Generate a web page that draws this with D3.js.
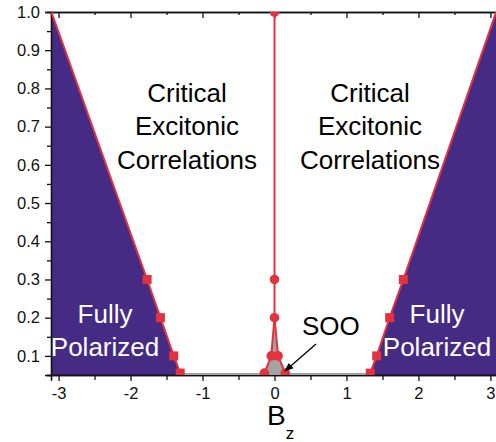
<!DOCTYPE html>
<html>
<head>
<meta charset="utf-8">
<script src="https://cdn.jsdelivr.net/npm/d3@7"></script>
<style>
  body { margin: 0; background: #fff; }
  text { font-family: "Liberation Sans", Arial, Helvetica, sans-serif; }
</style>
</head>
<body>
<div id="chart"></div>
<script>
// svg container
var svgWidth = 496;
var svgHeight = 442;

// plot area (right edge runs past the window)
var margin = { top: 12, left: 51 };
var plotRight = 498;
var plotBottom = 375;

// data
// critical fields (squares) at each temperature
var critY = [0.055, 0.1, 0.2, 0.3];
var leftCritX = [-1.31, -1.40, -1.585, -1.77];
var rightCritX = [1.33, 1.42, 1.60, 1.79];
// boundary lines continue to the top of the frame
var edgeY = 1.0;
var leftEdgeX = -3.10;
var rightEdgeX = 3.08;

// center line (circles) at Bz = 0
var centerY = [1.0, 0.3, 0.2];
// SOO pocket edges
var sooY = [0.1, 0.055];
var sooLeftX = [-0.045, -0.14];
var sooRightX = [0.05, 0.15];

// ticks
var xMajor = [-3, -2, -1, 0, 1, 2, 3];
var xMinor = [-2.5, -1.5, -0.5, 0.5, 1.5, 2.5];
var yMajor = [0.1, 0.2, 0.3, 0.4, 0.5, 0.6, 0.7, 0.8, 0.9, 1.0];
var yMinor = [0.05, 0.15, 0.25, 0.35, 0.45, 0.55, 0.65, 0.75, 0.85, 0.95];

var purple = "#452b83";
var red = "#e1323d";
var grey = "#a3a3a3";

var svg = d3.select("#chart").append("svg")
  .attr("width", svgWidth)
  .attr("height", svgHeight);

var xScale = d3.scaleLinear().domain([-3.105, 3.105]).range([margin.left, plotRight]);
var yScale = d3.scaleLinear().domain([0.05, 1.0]).range([plotBottom, margin.top]);
var xMin = xScale.domain()[0], xMax = xScale.domain()[1];
var yMin = yScale.domain()[0], yMax = yScale.domain()[1];

svg.append("clipPath").attr("id", "plotClip")
  .append("rect")
  .attr("x", margin.left)
  .attr("y", margin.top)
  .attr("width", plotRight - margin.left)
  .attr("height", plotBottom - margin.top);

var plot = svg.append("g").attr("clip-path", "url(#plotClip)");

var line = d3.line().x(d => xScale(d[0])).y(d => yScale(d[1]));

// boundary point lists
var leftBoundary = critY.map((y, i) => [leftCritX[i], y]).concat([[leftEdgeX, edgeY]]);
var rightBoundary = critY.map((y, i) => [rightCritX[i], y]).concat([[rightEdgeX, edgeY]]);

// fully polarized regions
var leftPoly = [[xMin, yMin], [leftCritX[0], yMin]].concat(leftBoundary).concat([[xMin, yMax]]);
var rightPoly = [[xMax, yMin], [rightCritX[0], yMin]].concat(rightBoundary).concat([[xMax, yMax]]);

plot.append("path").attr("d", line(leftPoly) + "Z").attr("fill", purple);
plot.append("path").attr("d", line(rightPoly) + "Z").attr("fill", purple);

// axes
var xAxisBottom = d3.axisBottom(xScale).tickValues(xMajor).tickSize(6).tickPadding(6)
  .tickFormat(d => String(d));
var xAxisBottomMinor = d3.axisBottom(xScale).tickValues(xMinor).tickSize(5).tickFormat("");
var xAxisTop = d3.axisTop(xScale).tickValues(xMajor).tickSize(-6).tickFormat("");
var xAxisTopMinor = d3.axisTop(xScale).tickValues(xMinor).tickSize(-3).tickFormat("");
var yAxis = d3.axisLeft(yScale).tickValues(yMajor).tickSize(6).tickPadding(5)
  .tickFormat(d => d.toFixed(1));
var yAxisMinor = d3.axisLeft(yScale).tickValues(yMinor).tickSize(4).tickFormat("");

function styleAxis(g) {
  g.select(".domain").attr("stroke", "#111").attr("stroke-width", 1.3);
  g.selectAll(".tick line").attr("stroke", "#111").attr("stroke-width", 1.3);
  g.selectAll(".tick text").attr("fill", "#111").style("font-size", "16.5px")
    .style("font-family", "'Liberation Sans', Arial, sans-serif");
}

svg.append("g").attr("transform", `translate(0, ${plotBottom})`).call(xAxisBottom).call(styleAxis);
svg.append("g").attr("transform", `translate(0, ${plotBottom})`).call(xAxisBottomMinor).call(styleAxis);
svg.append("g").attr("transform", `translate(0, ${margin.top})`).call(xAxisTop).call(styleAxis);
svg.append("g").attr("transform", `translate(0, ${margin.top})`).call(xAxisTopMinor).call(styleAxis);
svg.append("g").attr("transform", `translate(${margin.left}, 0)`).call(yAxis).call(styleAxis);
svg.append("g").attr("transform", `translate(${margin.left}, 0)`).call(yAxisMinor).call(styleAxis);

var plotTop = svg.append("g").attr("clip-path", "url(#plotClip)");

// SOO pocket (grey) incl. thin strip along the bottom
var sooPoly = [[leftCritX[0], yMin], [leftCritX[0], critY[0]]]
  .concat([[sooLeftX[1], sooY[1]], [sooLeftX[0], sooY[0]], [0, centerY[2]],
           [sooRightX[0], sooY[0]], [sooRightX[1], sooY[1]]])
  .concat([[rightCritX[0], critY[0]], [rightCritX[0], yMin]]);
plotTop.append("path").attr("d", line(sooPoly) + "Z").attr("fill", grey);

// red phase boundary lines
var centerLine = centerY.map(y => [0, y]);
var sooLeftLine = [[0, centerY[2]]].concat(sooY.map((y, i) => [sooLeftX[i], y]));
var sooRightLine = [[0, centerY[2]]].concat(sooY.map((y, i) => [sooRightX[i], y]));

[leftBoundary, rightBoundary, centerLine, sooLeftLine, sooRightLine].forEach(function(pts) {
  plotTop.append("path")
    .attr("d", line(pts))
    .attr("fill", "none")
    .attr("stroke", red)
    .attr("stroke-width", 2);
});

// square markers
var squares = critY.map((y, i) => [leftCritX[i], y]).concat(critY.map((y, i) => [rightCritX[i], y]));
plotTop.selectAll("rect.sq")
  .data(squares)
  .enter()
  .append("rect")
  .attr("class", "sq")
  .attr("x", d => xScale(d[0]) - 4.5)
  .attr("y", d => yScale(d[1]) - 4.5)
  .attr("width", 9)
  .attr("height", 9)
  .attr("fill", red);

// circle markers
var circles = centerY.map(y => [0, y])
  .concat(sooY.map((y, i) => [sooLeftX[i], y]))
  .concat(sooY.map((y, i) => [sooRightX[i], y]));
plotTop.selectAll("circle")
  .data(circles)
  .enter()
  .append("circle")
  .attr("cx", d => xScale(d[0]))
  .attr("cy", d => yScale(d[1]))
  .attr("r", 4.8)
  .attr("fill", red);

// region labels
function block(lines, x, y0, color) {
  var t = svg.append("text")
    .attr("text-anchor", "middle")
    .attr("fill", color)
    .style("font-size", "26px");
  lines.forEach(function(s, i) {
    t.append("tspan").attr("x", x).attr("y", y0 + i * 33.3).text(s);
  });
}
block(["Critical", "Excitonic", "Correlations"], 187, 102, "#000");
block(["Critical", "Excitonic", "Correlations"], 370, 102, "#000");
block(["Fully", "Polarized"], 105, 323, "#fff");
block(["Fully", "Polarized"], 437, 323, "#fff");

svg.append("text")
  .attr("x", 302)
  .attr("y", 335)
  .attr("fill", "#000")
  .style("font-size", "26px")
  .text("SOO");

// arrow to the SOO pocket
svg.append("defs").append("marker")
  .attr("id", "arrowHead")
  .attr("viewBox", "0 0 10 10")
  .attr("refX", 9).attr("refY", 5)
  .attr("markerWidth", 7).attr("markerHeight", 7)
  .attr("orient", "auto")
  .append("path")
  .attr("d", "M0,1 L10,5 L0,9 Z")
  .attr("fill", "#000");

svg.append("line")
  .attr("x1", 316).attr("y1", 344)
  .attr("x2", 285).attr("y2", 371)
  .attr("stroke", "#000")
  .attr("stroke-width", 1.3)
  .attr("marker-end", "url(#arrowHead)");

// x axis title
var xt = svg.append("text")
  .attr("x", 267)
  .attr("y", 425)
  .attr("fill", "#000")
  .style("font-size", "28px");
xt.append("tspan").text("B");
xt.append("tspan").attr("dy", 14).style("font-size", "17px").text("z");
</script>
</body>
</html>
